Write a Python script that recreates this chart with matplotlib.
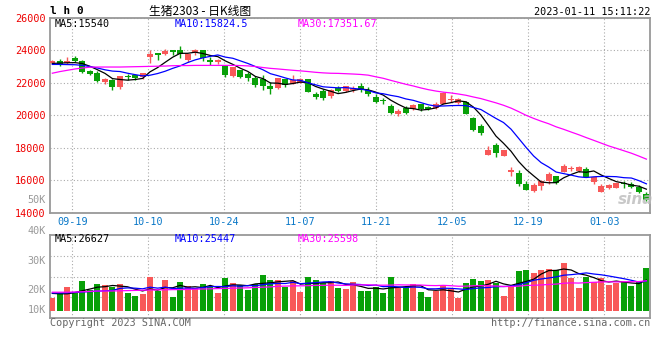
import matplotlib
matplotlib.use("Agg")
import matplotlib.pyplot as plt
import numpy as np
import pandas as pd

symbol = "l h 0"
title = "生猪2303 - 日K线图"
stamp = "2023-01-11 15:11:22"

# daily candles 2022-09-14 .. 2023-01-11
opens = [23200, 23360, 23200, 23510, 23360, 22690, 22610, 22040, 22180, 21730,
         22380, 22440, 22360, 23580, 23810, 23730, 24020, 24020, 23410, 23810,
         23980, 23420, 23260, 23000, 22380, 22790, 22550, 22280, 22200, 21790,
         21660, 22200, 21900, 21950, 22200, 21280, 21470, 21160, 21660, 21500,
         21530, 21790, 21530, 21120, 20900, 20550, 20060, 20450, 20360, 20670,
         20490, 20470, 20670, 20910, 20780, 20810, 19860, 19320, 17550, 18160,
         17510, 16530, 16470, 15770, 15330, 15670, 15960, 16280, 16530, 16690,
         16590, 16690, 15920, 15300, 15510, 15550, 15820, 15760, 15610, 15140]
closes = [23360, 23160, 23360, 23340, 22650, 22520, 22100, 22240, 21730, 22380,
          22320, 22300, 22570, 23770, 23670, 23930, 23870, 23770, 23770, 24020,
          23530, 23260, 23420, 22450, 22960, 22340, 22280, 21880, 21790, 21610,
          22280, 21880, 22180, 22240, 21420, 21130, 21060, 21530, 21500, 21790,
          21700, 21530, 21280, 20810, 20870, 20140, 20260, 20160, 20610, 20410,
          20360, 20710, 21360, 21020, 20980, 20060, 19080, 18910, 17860, 17690,
          17860, 16630, 15790, 15410, 15730, 15960, 16390, 15820, 16900, 16760,
          16800, 16220, 16220, 15650, 15710, 15820, 15780, 15610, 15300, 14800]
highs = [23420, 23470, 23600, 23630, 23420, 22800, 22700, 22300, 22200, 22380,
         22550, 22440, 22570, 23980, 23810, 24080, 24020, 24280, 23770, 24040,
         23980, 23570, 23480, 23060, 22960, 22790, 22650, 22400, 22440, 22040,
         22280, 22200, 22450, 22280, 22200, 21420, 21630, 21630, 21780, 21790,
         21790, 22000, 21730, 21320, 21060, 20670, 20410, 20570, 20670, 20670,
         20550, 20790, 21430, 21220, 21040, 20900, 19900, 19450, 18120, 18300,
         17860, 16800, 16630, 15960, 15820, 16020, 16490, 16280, 17000, 16880,
         16880, 16820, 16220, 15760, 15780, 15820, 15980, 15920, 15710, 15270]
lows = [23160, 23040, 23160, 23240, 22620, 22460, 22060, 21900, 21530, 21590,
        22140, 22140, 22240, 23200, 23400, 23670, 23700, 23530, 23260, 23670,
        23330, 23060, 23140, 22340, 22340, 22300, 22100, 21730, 21570, 21330,
        21600, 21730, 21900, 21950, 21420, 21020, 20940, 21060, 21450, 21450,
        21400, 21450, 21160, 20750, 20670, 20080, 19960, 20100, 20300, 20280,
        20300, 20380, 20670, 20810, 20710, 20060, 19020, 18770, 17550, 17450,
        17510, 16280, 15670, 15410, 15280, 15410, 15760, 15760, 16530, 16590,
        16530, 16220, 15760, 15300, 15450, 15550, 15510, 15510, 15240, 14760]
volumes = [16300, 18800, 21800, 18800, 25000, 20500, 23500, 23000, 21800, 23500,
           18800, 17500, 18500, 27000, 20200, 25500, 16800, 24500, 22500, 21300,
           23500, 22200, 19000, 26500, 24200, 23000, 20500, 23500, 28000, 25500,
           25500, 21800, 25000, 19500, 27000, 25500, 23800, 25000, 21300, 21000,
           24300, 20000, 20000, 21800, 19000, 27000, 21300, 21800, 23500, 19500,
           17000, 20000, 23000, 21000, 16500, 24000, 26000, 25000, 25500, 23800,
           17500, 22200, 30000, 30500, 29000, 30500, 31000, 30500, 34000, 26500,
           21500, 27000, 24500, 26500, 23000, 23800, 24300, 22500, 25000, 31700]

# averages before each window fills up (sessions before the chart starts)
ma5_head = [23180, 23200, 23220, 23230]
ma10_head = [23120, 23120, 23110, 23100, 23060, 22990, 22900, 22790, 22710]
ma30_head = [22580, 22680, 22760, 22840, 22900, 22950, 22960, 22960, 22960, 22960,
             22970, 22980, 22990, 23000, 23010, 23020, 23040, 23050, 23050, 23060,
             23060, 23060, 23060, 23060, 23060, 23050, 23030, 22990, 22930]
vol_ma5_head = [18800, 18600, 18600, 19200]
vol_ma10_head = [19000, 19000, 19100, 19300, 19500, 19700, 19900, 20100, 20300]
vol_ma30_head = [19400, 19400, 19400, 19500, 19600, 19800, 20000, 20000, 20000, 20100,
                 20200, 20300, 20400, 20500, 20600, 20600, 20700, 20700, 20800, 20900,
                 21000, 21100, 21200, 21300, 21400, 21500, 21600, 21800, 21900]

date_ticks = [3, 13, 23, 33, 43, 53, 63, 73]
date_labels = ["09-19", "10-10", "10-24", "11-07", "11-21", "12-05", "12-19", "01-03"]
price_ticks = [14000, 16000, 18000, 20000, 22000, 24000, 26000]
vol_labels = ["50K", "40K", "30K", "20K", "10K"]
price_ma_text = ["MA5:15540", "MA10:15824.5", "MA30:17351.67"]
vol_ma_text = ["MA5:26627", "MA10:25447", "MA30:25598"]

RED = "#f85858"
GREEN = "#08a008"
MA_COLORS = ["#000000", "#0000ff", "#ff00ff"]
FRAME = "#999999"
GRID = "#aaaaaa"
MONO = "DejaVu Sans Mono"
W, H = 660, 360


def px(x, y):
    return x / W, 1 - y / H


def moving(values, n, head):
    s = pd.Series(values, dtype=float).rolling(n).mean().to_numpy()
    s[:n - 1] = head
    return s


def frame(ax):
    for sp in ax.spines.values():
        sp.set_color(FRAME)
        sp.set_linewidth(1.3)
    ax.set_facecolor("white")


idx = np.arange(len(closes))
o = np.array(opens)
c = np.array(closes)
up = c >= o
colors = np.where(up, RED, GREEN)
# sina's grid is spaced a little wider than 10 sessions
grid_x = np.array(date_ticks) * 1.0106 - 0.37

fig = plt.figure(figsize=(6.6, 3.6), dpi=100)
ax = fig.add_axes([50 / W, 1 - 213 / H, 600 / W, 195.5 / H])
axv = fig.add_axes([50 / W, 1 - 318 / H, 600 / W, 83 / H])

# price panel
ax.vlines(idx, lows, highs, colors=colors, linewidth=1.0, zorder=3)
body = np.maximum(np.abs(c - o), 60)
ax.bar(idx, body, bottom=np.minimum(o, c), width=0.8, color=colors,
       linewidth=0, zorder=4)
for n, head, col in zip([5, 10, 30], [ma5_head, ma10_head, ma30_head], MA_COLORS):
    ax.plot(idx, moving(closes, n, head), color=col, linewidth=0.9, zorder=5)

ax.set_xlim(-0.31, 79.48)
ax.set_ylim(14000, 26000)
ax.set_yticks(price_ticks)
ax.set_yticklabels([str(t) for t in price_ticks], color="#ee0000",
                   fontsize=7.3, family=MONO)
ax.set_xticks(grid_x)
ax.set_xticklabels(date_labels, color="#0a78c8", fontsize=7.3, family=MONO)
ax.tick_params(length=0, pad=3)
ax.grid(True, color=GRID, linestyle=(0, (1, 2)), linewidth=0.8)
ax.set_axisbelow(True)
frame(ax)

# volume panel
vol_base = 10000
axv.bar(idx, np.array(volumes) - vol_base, bottom=vol_base, width=0.8,
        color=colors, linewidth=0, zorder=3)
for n, head, col in zip([5, 10, 30], [vol_ma5_head, vol_ma10_head, vol_ma30_head], MA_COLORS):
    axv.plot(idx, moving(volumes, n, head), color=col, linewidth=0.9, zorder=4)
axv.set_xlim(ax.get_xlim())
axv.set_ylim(6500, 48000)
axv.set_xticks(grid_x)
axv.set_yticks(np.linspace(6500, 48000, 5)[1:-1])
axv.set_xticklabels([])
axv.set_yticklabels([])
axv.tick_params(length=0)
axv.grid(True, color=GRID, linestyle=(0, (1, 2)), linewidth=0.8)
axv.set_axisbelow(True)
frame(axv)

for lab, y in zip(vol_labels, [200, 231, 261, 290, 310]):
    fig.text(*px(46, y), lab, ha="right", va="center", color="#999999",
             fontsize=7.3, family=MONO)

# legends
for txt, x, col in zip(price_ma_text, [55, 175, 298], MA_COLORS):
    fig.text(*px(x, 24), txt, ha="left", va="center", color=col,
             fontsize=7.3, family=MONO)
for txt, x, col in zip(vol_ma_text, [55, 175, 298], MA_COLORS):
    fig.text(*px(x, 239), txt, ha="left", va="center", color=col,
             fontsize=7.3, family=MONO)

# header / footer
fig.text(*px(50, 11.5), symbol, ha="left", va="center", fontsize=8,
         family=MONO, fontweight="bold")
fig.text(*px(200, 11.5), title, ha="center", va="center", fontsize=8.5,
         family=["Noto Sans CJK SC", "DejaVu Sans"])
fig.text(*px(650, 12), stamp, ha="right", va="center", fontsize=7.3, family=MONO)
fig.text(*px(50, 323), "Copyright 2023 SINA.COM", ha="left", va="center",
         color="#666666", fontsize=7.3, family=MONO)
fig.text(*px(650, 323), "http://finance.sina.com.cn", ha="right", va="center",
         color="#666666", fontsize=7.3, family=MONO)
fig.text(*px(636, 199), "sina", ha="center", va="center", color="#bbbbbb",
         fontsize=11, fontweight="bold", fontstyle="italic", alpha=0.8)

fig.savefig("out.png", dpi=100)
